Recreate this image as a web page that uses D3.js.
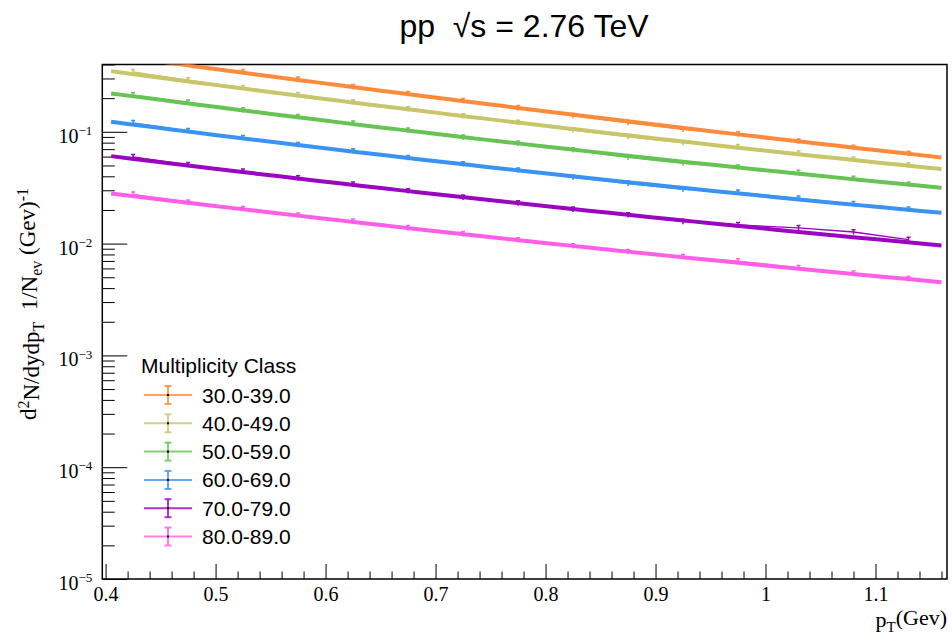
<!DOCTYPE html>
<html>
<head>
<meta charset="utf-8">
<script src="https://cdn.jsdelivr.net/npm/d3@7"></script>
<style>
  body { margin: 0; background: #fff; }
  svg { display: block; }
  .axis path, .axis line { stroke: #000; }
  .axis text { font-family: "Liberation Serif", "Times New Roman", serif; font-size: 20px; fill: #000; }
</style>
</head>
<body>
<div id="chart"></div>
<script>
// pT bin centres (GeV)
var ptValues = [0.425, 0.475, 0.525, 0.575, 0.625, 0.675, 0.725, 0.775, 0.825, 0.875, 0.925, 0.975, 1.03, 1.08, 1.13];

// d2N/dydpT per multiplicity class
var mult30 = [0.461, 0.399, 0.344, 0.294, 0.2527, 0.2187, 0.1894, 0.1636, 0.139, 0.1203, 0.105, 0.0954, 0.0821, 0.0723, 0.0637];
var mult40 = [0.344, 0.290, 0.2475, 0.2142, 0.1844, 0.1596, 0.1382, 0.1209, 0.1035, 0.0902, 0.0797, 0.0734, 0.0642, 0.0568, 0.0501];
var mult50 = [0.213, 0.1832, 0.1564, 0.1362, 0.1189, 0.1029, 0.0891, 0.0787, 0.0686, 0.059, 0.0522, 0.0481, 0.0431, 0.0382, 0.0339];
var mult60 = [0.1203, 0.1021, 0.0884, 0.0765, 0.0672, 0.0585, 0.0514, 0.0452, 0.0391, 0.0345, 0.0305, 0.0287, 0.0254, 0.02265, 0.0202];
var mult70 = [0.0597, 0.0507, 0.0442, 0.0385, 0.0338, 0.0295, 0.0259, 0.023, 0.0202, 0.018, 0.0157, 0.0147, 0.0138, 0.0127, 0.01086];
var mult80 = [0.0275, 0.0234, 0.0205, 0.0179, 0.0158, 0.0138, 0.0122, 0.01075, 0.0095, 0.00845, 0.00762, 0.00698, 0.00607, 0.00542, 0.00485];

// fit curves, read at three pT values
var fitPt = [0.405, 0.775, 1.16];
var fit30 = [0.487, 0.1636, 0.0590];
var fit40 = [0.349, 0.1209, 0.0464];
var fit50 = [0.2206, 0.0787, 0.0316];
var fit60 = [0.1229, 0.0452, 0.01886];
var fit70 = [0.0606, 0.0230, 0.00964];
var fit80 = [0.0281, 0.01075, 0.00452];

var classLabels = ["30.0-39.0", "40.0-49.0", "50.0-59.0", "60.0-69.0", "70.0-79.0", "80.0-89.0"];
var classColors = ["#ff8a3a", "#c9c56a", "#66c455", "#3a92f2", "#9a05c0", "#ff5ee8"];
var seriesValues = [mult30, mult40, mult50, mult60, mult70, mult80];
var fitValues = [fit30, fit40, fit50, fit60, fit70, fit80];

var relError = 0.05;

var xTicks = [0.4, 0.5, 0.6, 0.7, 0.8, 0.9, 1.0, 1.1];
var yTicks = [1e-5, 1e-4, 1e-3, 1e-2, 1e-1];

var svgWidth = 952, svgHeight = 641;
var frame = { left: 102.3, right: 947, top: 64.5, bottom: 579 };

var svg = d3.select("#chart").append("svg")
  .attr("width", svgWidth)
  .attr("height", svgHeight);

var x = d3.scaleLinear().domain([0.397, 1.165]).range([frame.left, frame.right]);
var y = d3.scaleLog().domain([1e-5, 0.4]).range([frame.bottom, frame.top]);

svg.append("clipPath").attr("id", "plotClip")
  .append("rect")
  .attr("x", frame.left).attr("y", frame.top)
  .attr("width", frame.right - frame.left)
  .attr("height", frame.bottom - frame.top);

// minor ticks
var xMinor = d3.range(0.42, 1.165, 0.02).filter(v => Math.abs(v * 10 - Math.round(v * 10)) > 0.01);
var yMinor = [];
[1e-5, 1e-4, 1e-3, 1e-2, 1e-1].forEach(dec => {
  for (var k = 2; k <= 9; k++) if (dec * k <= 0.4) yMinor.push(dec * k);
});

svg.append("g").attr("class", "axis")
  .attr("transform", `translate(0, ${frame.bottom})`)
  .call(d3.axisBottom(x).tickValues(xMinor).tickSize(-7.5).tickFormat(""))
  .call(g => g.select(".domain").remove());

svg.append("g").attr("class", "axis")
  .attr("transform", `translate(0, ${frame.bottom})`)
  .call(d3.axisBottom(x).tickValues(xTicks).tickSize(-15).tickPadding(8)
    .tickFormat(d => String(+d.toFixed(1))))
  .call(g => g.select(".domain").remove())
  .call(g => g.selectAll("text").attr("dy", "0.72em"));

svg.append("g").attr("class", "axis")
  .attr("transform", `translate(${frame.left}, 0)`)
  .call(d3.axisLeft(y).tickValues(yMinor).tickSize(-12.5).tickFormat(""))
  .call(g => g.select(".domain").remove());

var yAxisG = svg.append("g").attr("class", "axis")
  .attr("transform", `translate(${frame.left}, 0)`)
  .call(d3.axisLeft(y).tickValues(yTicks).tickSize(-25).tickPadding(10).tickFormat(""))
  .call(g => g.select(".domain").remove());

yAxisG.selectAll(".tick text")
  .attr("dy", "0.52em")
  .each(function(d) {
    var t = d3.select(this);
    t.append("tspan").text("10");
    t.append("tspan").attr("dy", "-0.6em").attr("font-size", "13px")
      .text("\u2212" + Math.round(-Math.log10(d)));
  });

// frame
svg.append("rect")
  .attr("x", frame.left).attr("y", frame.top)
  .attr("width", frame.right - frame.left)
  .attr("height", frame.bottom - frame.top)
  .attr("fill", "none").attr("stroke", "#000").attr("stroke-width", 1.5);

// smooth curve (quadratic in log10) through the three fit readings
function fitCurve(vals) {
  var l = vals.map(v => Math.log10(v));
  var p0 = fitPt[0], p1 = fitPt[1], p2 = fitPt[2];
  return p => Math.pow(10,
    l[0] * (p - p1) * (p - p2) / ((p0 - p1) * (p0 - p2)) +
    l[1] * (p - p0) * (p - p2) / ((p1 - p0) * (p1 - p2)) +
    l[2] * (p - p0) * (p - p1) / ((p2 - p0) * (p2 - p1)));
}

// series
var plot = svg.append("g").attr("clip-path", "url(#plotClip)");
var line = d3.line().x(d => x(d.x)).y(d => y(d.y));

seriesValues.forEach(function(vals, i) {
  var pts = ptValues.map((p, j) => ({ x: p, y: vals[j] }));
  var col = classColors[i];

  var fn = fitCurve(fitValues[i]);
  var fitPts = d3.range(fitPt[0], fitPt[2] + 1e-9, (fitPt[2] - fitPt[0]) / 40)
    .map(p => ({ x: p, y: fn(p) }));

  plot.append("path")
    .attr("d", line(pts))
    .attr("fill", "none")
    .attr("stroke", col)
    .attr("stroke-width", 1.3);

  plot.append("path")
    .attr("d", line(fitPts))
    .attr("fill", "none")
    .attr("stroke", col)
    .attr("stroke-width", 4);

  var bars = plot.append("g").selectAll("g")
    .data(pts)
    .enter()
    .append("g");

  bars.append("line")
    .attr("x1", d => x(d.x)).attr("x2", d => x(d.x))
    .attr("y1", d => y(d.y * (1 + relError))).attr("y2", d => y(d.y * (1 - relError)))
    .attr("stroke", col).attr("stroke-width", 1.5);

  bars.append("line")
    .attr("x1", d => x(d.x) - 2).attr("x2", d => x(d.x) + 2)
    .attr("y1", d => y(d.y * (1 + relError))).attr("y2", d => y(d.y * (1 + relError)))
    .attr("stroke", col).attr("stroke-width", 1.5);
});

// legend
var legend = svg.append("g")
  .attr("font-family", "'Liberation Sans', Arial, sans-serif")
  .attr("font-size", "21px");

legend.append("text")
  .attr("x", 141).attr("y", 366).attr("dy", "0.35em")
  .text("Multiplicity Class");

var entries = legend.selectAll(".entry")
  .data(classLabels)
  .enter()
  .append("g")
  .attr("class", "entry")
  .attr("transform", (d, i) => `translate(0, ${395 + i * 28.3})`);

entries.append("line")
  .attr("x1", 144).attr("x2", 192).attr("y1", 0).attr("y2", 0)
  .attr("stroke", (d, i) => classColors[i]).attr("stroke-width", 2).attr("opacity", 0.8);
entries.append("line")
  .attr("x1", 168).attr("x2", 168).attr("y1", -9).attr("y2", 9)
  .attr("stroke", (d, i) => classColors[i]).attr("stroke-width", 2).attr("opacity", 0.8);
entries.append("line")
  .attr("x1", 164.5).attr("x2", 171.5).attr("y1", -9).attr("y2", -9)
  .attr("stroke", (d, i) => classColors[i]).attr("stroke-width", 2).attr("opacity", 0.8);
entries.append("line")
  .attr("x1", 164.5).attr("x2", 171.5).attr("y1", 9).attr("y2", 9)
  .attr("stroke", (d, i) => classColors[i]).attr("stroke-width", 2).attr("opacity", 0.8);
entries.append("rect")
  .attr("x", 167).attr("y", -1).attr("width", 2).attr("height", 2).attr("fill", "#000");
entries.append("text")
  .attr("x", 202).attr("y", 0).attr("dy", "0.36em")
  .text(d => d);

// title
svg.append("text")
  .attr("x", 524).attr("y", 37)
  .attr("text-anchor", "middle")
  .attr("font-family", "'Liberation Sans', Arial, sans-serif")
  .attr("font-size", "32px")
  .text("pp\u00A0 \u221As = 2.76 TeV");

// axis titles
var xTitle = svg.append("text")
  .attr("x", 947).attr("y", 627)
  .attr("text-anchor", "end")
  .attr("font-family", "'Liberation Serif', 'Times New Roman', serif")
  .attr("font-size", "22px");
xTitle.append("tspan").text("p");
xTitle.append("tspan").attr("dy", "0.3em").attr("font-size", "15px").text("T");
xTitle.append("tspan").attr("dy", "-0.3em").text("(Gev)");

var yTitle = svg.append("text")
  .attr("transform", "translate(36, 188) rotate(-90)")
  .attr("text-anchor", "end")
  .attr("font-family", "'Liberation Serif', 'Times New Roman', serif")
  .attr("font-size", "23px");
yTitle.append("tspan").text("d");
yTitle.append("tspan").attr("dy", "-0.45em").attr("font-size", "16px").text("2");
yTitle.append("tspan").attr("dy", "0.45em").text("N/dydp");
yTitle.append("tspan").attr("dy", "0.3em").attr("font-size", "16px").text("T");
yTitle.append("tspan").attr("dy", "-0.3em").text("\u00A0\u00A01/N");
yTitle.append("tspan").attr("dy", "0.3em").attr("font-size", "16px").text("ev");
yTitle.append("tspan").attr("dy", "-0.3em").text(" (Gev)");
yTitle.append("tspan").attr("dy", "-0.45em").attr("font-size", "16px").text("-1");
</script>
</body>
</html>
